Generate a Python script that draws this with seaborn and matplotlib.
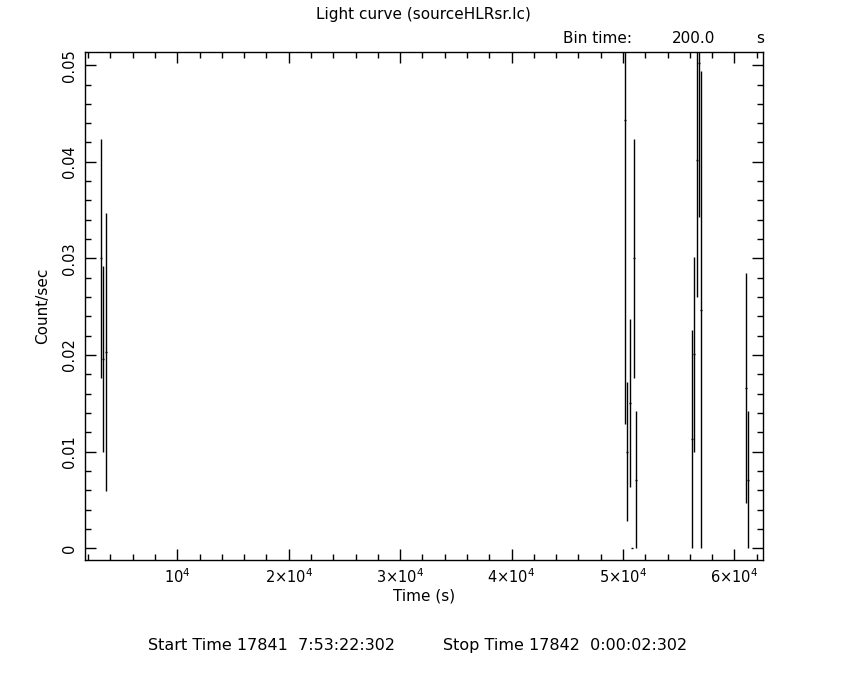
#!/usr/bin/env python3

import matplotlib
matplotlib.use('Agg')
import matplotlib.pyplot as plt
from matplotlib.ticker import MultipleLocator, FixedLocator
import seaborn as sns

# light curve bins (time in s, rate and 1-sigma error in count/s)
time = [3184, 3363, 3632,
        50157, 50359, 50600, 50825, 50987, 51166,
        56185, 56380, 56630, 56830, 56970,
        61031, 61211]
rate = [0.0300, 0.0196, 0.0203,
        0.0443, 0.0100, 0.0150, 0.0, 0.0300, 0.0071,
        0.0113, 0.0201, 0.0402, 0.0502, 0.0247,
        0.0166, 0.0071]
rate_err = [0.0124, 0.0096, 0.0144,
            0.0314, 0.0072, 0.0087, 0.0, 0.0124, 0.0071,
            0.0113, 0.0101, 0.0142, 0.0159, 0.0247,
            0.0119, 0.0071]
bin_time = 200.0

xticks = [10000, 20000, 30000, 40000, 50000, 60000]
xticklabels = [r'$10^4$', r'$2{\times}10^4$', r'$3{\times}10^4$',
               r'$4{\times}10^4$', r'$5{\times}10^4$', r'$6{\times}10^4$']
yticks = [0, 0.01, 0.02, 0.03, 0.04, 0.05]
yticklabels = ['0', '0.01', '0.02', '0.03', '0.04', '0.05']

sns.set_style('ticks')
plt.rcParams['font.family'] = ['DejaVu Sans']
plt.rcParams['text.color'] = 'black'
plt.rcParams['axes.labelcolor'] = 'black'
plt.rcParams['xtick.color'] = 'black'
plt.rcParams['ytick.color'] = 'black'

fig = plt.figure(figsize=(8.5, 6.8), dpi=100)
ax = fig.add_axes([0.1, 0.1765, 0.7976, 0.7475])

ax.errorbar(time, rate, xerr=bin_time / 2, yerr=rate_err, fmt='none',
            ecolor='black', elinewidth=1.0, capsize=0)

ax.set_xlim(1720, 62560)
ax.set_ylim(-0.00121, 0.0514)

ax.xaxis.set_major_locator(FixedLocator(xticks))
ax.set_xticklabels(xticklabels)
ax.xaxis.set_minor_locator(MultipleLocator(2000))
ax.yaxis.set_major_locator(FixedLocator(yticks))
ax.set_yticklabels(yticklabels, rotation=90, va='center')
ax.yaxis.set_minor_locator(MultipleLocator(0.002))

ax.tick_params(which='both', direction='in', top=True, right=True,
               colors='black', labelcolor='black', labelsize=10.5)
ax.tick_params(which='major', length=8, width=1)
ax.tick_params(which='minor', length=4, width=1)
ax.tick_params(axis='x', pad=5)
ax.tick_params(axis='y', pad=6)
for s in ax.spines.values():
    s.set_linewidth(1)
    s.set_color('black')

ax.set_xlabel('Time (s)', fontsize=11, labelpad=2, color='black')
ax.set_ylabel('Count/sec', fontsize=11, labelpad=8, color='black')

fig.text(0.4976, 0.979, 'Light curve (sourceHLRsr.lc)', ha='center', va='center', fontsize=11)
fig.text(0.662, 0.944, 'Bin time:', ha='left', va='center', fontsize=11)
fig.text(0.79, 0.944, '200.0', ha='left', va='center', fontsize=11)
fig.text(0.89, 0.944, 's', ha='left', va='center', fontsize=11)
fig.text(0.174, 0.051, 'Start Time 17841  7:53:22:302', ha='left', va='center', fontsize=11.5)
fig.text(0.521, 0.051, 'Stop Time 17842  0:00:02:302', ha='left', va='center', fontsize=11.5)

fig.savefig('out.png', dpi=100)
